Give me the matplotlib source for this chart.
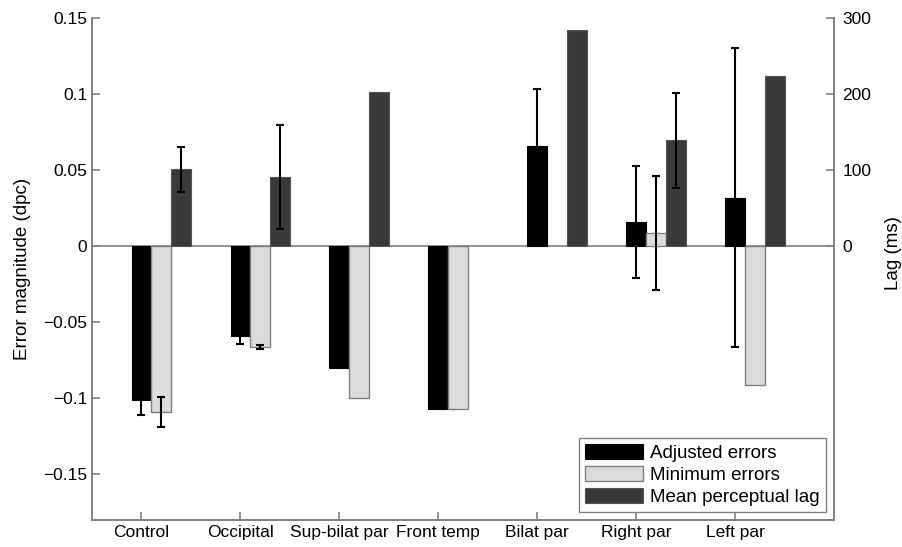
import numpy as np
import matplotlib.pyplot as plt

plt.rcParams["font.family"] = ["Liberation Sans", "DejaVu Sans"]

groups = ["Control", "Occipital", "Sup-bilat par", "Front temp", "Bilat par", "Right par", "Left par"]
adjusted = [-0.101, -0.059, -0.080, -0.107, 0.066, 0.016, 0.032]
adjusted_err = [0.010, 0.0055, np.nan, np.nan, 0.0375, 0.037, 0.0985]
minimum = [-0.109, -0.066, -0.100, -0.107, np.nan, 0.0086, -0.091]
minimum_err = [0.010, 0.0013, np.nan, np.nan, np.nan, 0.0375, np.nan]
lag_ms = [101, 91, 203, np.nan, 284, 139, 224]
lag_err = [30, 68, np.nan, np.nan, np.nan, 62, np.nan]

GREY = "#808080"
x = np.arange(len(groups))
w = 0.2

fig = plt.figure(figsize=(9.02, 5.47), dpi=100)
ax = fig.add_axes([0.102, 0.0494, 0.8226, 0.9176])
ax2 = ax.twinx()

ax.axhline(0, color=GREY, linewidth=1.2, zorder=1)
b1 = ax.bar(x, adjusted, w, color="black", edgecolor="black", linewidth=0.8,
            label="Adjusted errors", zorder=2)
b2 = ax.bar(x + w, minimum, w, color="#dcdcdc", edgecolor=GREY, linewidth=1.0,
            label="Minimum errors", zorder=2)
ax.errorbar(x, adjusted, yerr=adjusted_err, fmt="none", ecolor="black",
            elinewidth=1.5, capsize=3, capthick=1.5, zorder=3)
ax.errorbar(x + w, minimum, yerr=minimum_err, fmt="none", ecolor="black",
            elinewidth=1.5, capsize=3, capthick=1.5, zorder=3)

b3 = ax2.bar(x + 2 * w, lag_ms, w, color="#3a3a3a", edgecolor="#555555", linewidth=0.8,
             label="Mean perceptual lag", zorder=2)
ax2.errorbar(x + 2 * w, lag_ms, yerr=lag_err, fmt="none", ecolor="black",
             elinewidth=1.5, capsize=3, capthick=1.5, zorder=3)

ax.set_xlim(-0.5, 7.0)
ax.set_ylim(-0.18, 0.15)
ax2.set_ylim(-360, 300)
ax.set_xticks(x, groups)
ax.set_yticks([-0.15, -0.1, -0.05, 0, 0.05, 0.1, 0.15],
              ["\u22120.15", "\u22120.1", "\u22120.05", "0", "0.05", "0.1", "0.15"])
ax2.set_yticks([0, 100, 200, 300])

for a in (ax, ax2):
    a.spines["top"].set_visible(False)
    for s in ("left", "right", "bottom"):
        a.spines[s].set_color(GREY)
        a.spines[s].set_linewidth(1.2)
    a.tick_params(direction="in", color=GREY, length=6, width=1.2, labelsize=12.5)
ax2.tick_params(pad=6)

ax.set_ylabel("Error magnitude (dpc)", fontsize=13.5, labelpad=9)
# right label sits right at the figure edge, as in the original
fig.text(893 / 902, 1 - 253 / 547, "Lag (ms)", rotation=90, fontsize=13.5,
         ha="center", va="center")

leg = ax.legend(handles=[b1, b2, b3], loc="lower right", fontsize=13.5,
                fancybox=False, framealpha=1, edgecolor=GREY,
                handlelength=3.1, handleheight=0.9, handletextpad=0.4,
                borderpad=0.3, labelspacing=0.2, borderaxespad=0.45)
leg.get_frame().set_linewidth(1.0)

fig.savefig("out.png", dpi=100)
